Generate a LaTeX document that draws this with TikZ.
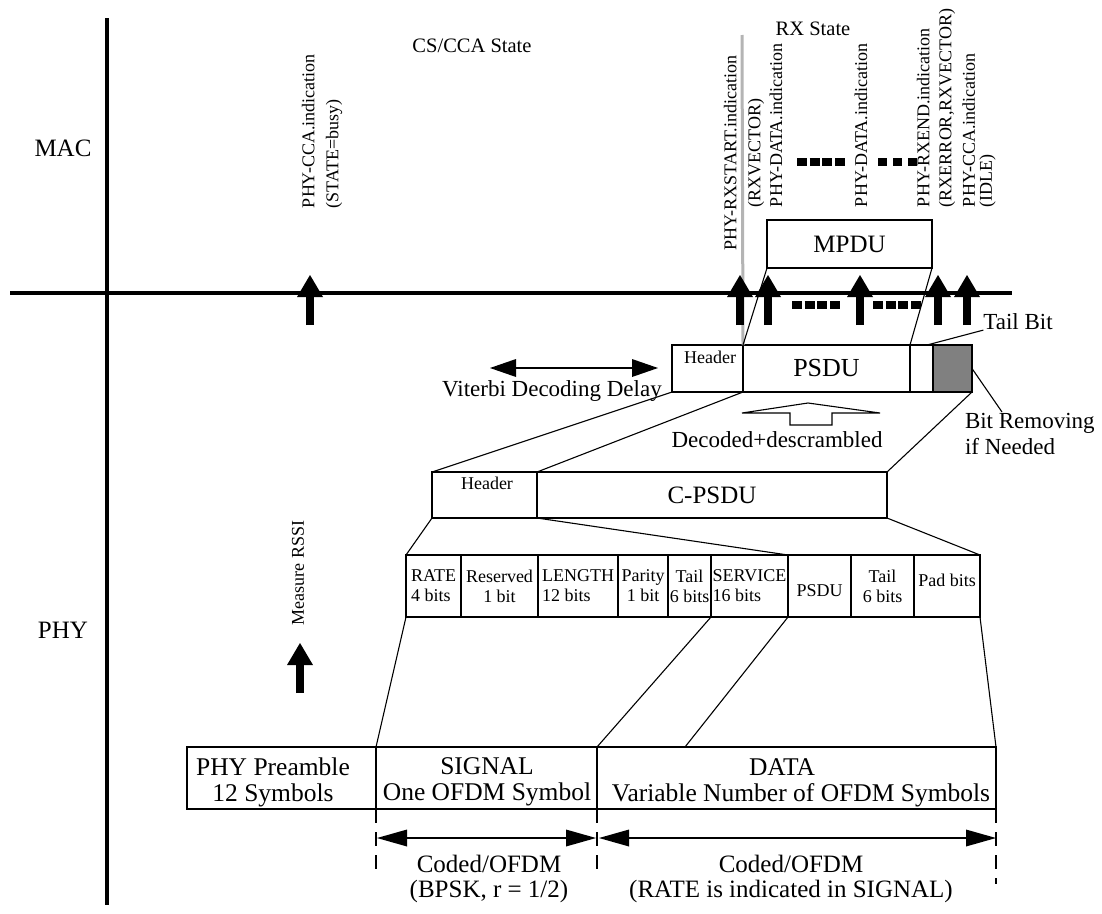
\documentclass[tikz,border=0pt]{standalone}
\usepackage{fontspec}
\setmainfont{Liberation Serif}
\usetikzlibrary{arrows.meta}
\definecolor{boxgray}{HTML}{808080}
\definecolor{lgray}{HTML}{B4B4B4}
\newcommand{\fs}[2]{\fontsize{#1}{#2}\selectfont\lineskiplimit=-50pt\relax}
\newcommand{\drawbox}[7][ubox]{\node[#1, minimum width={#4-#2}, minimum height={#5-#3}] (#6) at ({(#2+#4)/2},{(#3+#5)/2}) {#7};}
\begin{document}
\begin{tikzpicture}[x=1pt,y=-1pt,
  ubox/.style={draw, line width=2.7pt, inner sep=0pt, outer sep=0pt, align=center},
  lbox/.style={draw, line width=2.2pt, inner sep=0pt, outer sep=0pt},
  fbox/.style={ubox, font=\fs{18}{20}},
  thinl/.style={line width=1.1pt},
  txt/.style={inner sep=0pt, outer sep=0pt},
  rlab/.style={txt, rotate=90, anchor=west, align=left, font=\fs{18}{24}},
  bigarrow/.style={line width=8pt, -{Triangle[length=22pt,width=26pt,line width=0pt]}},
  dotsqa/.style={line width=7.5pt, dash pattern=on 10pt off 2.7pt},
  dotsqb/.style={line width=7.5pt, dash pattern=on 9pt off 6pt},
  dimarrow/.style={line width=2pt, {Triangle[length=30pt,width=17pt,line width=0pt]}-{Triangle[length=30pt,width=17pt,line width=0pt]}},
  vdash/.style={line width=2pt, dash pattern=on 14pt off 9pt},
  axisl/.style={line width=3.3pt},
]
\fill[white] (0,0) rectangle (1102,913);
\useasboundingbox (0,0) rectangle (1102,913);

% axes
\coordinate (vt) at (107,18); \coordinate (vb) at (107,905);
\coordinate (hl) at (10,293); \coordinate (hr) at (1012,293);
\draw[axisl] (vt) -- (vb);
\draw[axisl] (hl) -- (hr);

% layer and state labels
\node[txt, font=\fs{25}{30}] (mac) at (63,148) {MAC};
\node[txt, font=\fs{25}{30}] (phy) at (63,630) {PHY};
\node[txt, font=\fs{20.5}{24}] (cs) at (472,46) {CS/CCA State};
\node[txt, font=\fs{20.5}{24}] (rx) at (813,29) {RX State};

% rotated primitive labels
\node[rlab] (l1) at (322,208) {PHY-CCA.indication\\(STATE=busy)};
\node[rlab, align=center, anchor=center] (l2) at (744,153) {PHY-RXSTART.indication\\(RXVECTOR)};
\node[rlab] (l3) at (776,207) {PHY-DATA.indication};
\node[rlab] (l4) at (861,207) {PHY-DATA.indication};
\node[rlab, font=\fs{18}{22}] (l5) at (936,207) {PHY-RXEND.indication\\(RXERROR,RXVECTOR)};
\node[rlab, font=\fs{18}{17}] (l6) at (979,207) {PHY-CCA.indication\\(IDLE)};
\node[rlab] (rssi) at (298,625) {Measure RSSI};

% dotted squares
\coordinate (d1a) at (797,162); \coordinate (d1b) at (845,162);
\coordinate (d2a) at (878,162); \coordinate (d2b) at (917,162);
\coordinate (d3a) at (792,305); \coordinate (d3b) at (840,305);
\coordinate (d4a) at (873,305); \coordinate (d4b) at (921,305);
\draw[dotsqa] (d1a) -- (d1b);
\draw[dotsqb] (d2a) -- (d2b);
\draw[dotsqa] (d3a) -- (d3b);
\draw[dotsqa] (d4a) -- (d4b);

% MPDU
\drawbox{767}{220}{932}{268}{mpdu}{\fs{25}{30}MPDU}

% PSDU row
\drawbox{672}{345}{743}{392}{hdr}{}
\drawbox{743}{345}{910}{392}{psdu}{\fs{26}{30}PSDU}
\drawbox{910}{345}{933}{392}{tail}{}
\drawbox[ubox, fill=boxgray]{933}{345}{972}{392}{pad}{}
\node[txt, font=\fs{18}{20}] (hdrt) at (710,357.5) {Header};

% gray line
\coordinate (gtop) at (742,35);
\draw[line width=3pt, lgray] (gtop) -- (hdr.north east);

% big arrows
\foreach \n/\xx in {1/310, 2/740, 3/768, 4/860, 5/938, 6/967} {
  \coordinate (ab\n) at (\xx,325); \coordinate (at\n) at (\xx,275);
  \draw[bigarrow] (ab\n) -- (at\n);
}
\coordinate (rb) at (300,693); \coordinate (rt) at (300,643);
\draw[bigarrow] (rb) -- (rt);

\draw[thinl] (mpdu.south west) -- (psdu.north west);
\draw[thinl] (mpdu.south east) -- (tail.north west);

% tail bit / bit removing
\node[txt, font=\fs{23}{27}] (tb) at (1018,322) {Tail Bit};
\coordinate (tbend) at (927,345);
\draw[thinl] (tb.south west) -- (tbend);
\node[txt, font=\fs{23}{26}, align=left, anchor=west] (br) at (965,434) {Bit Removing\\if Needed};
\coordinate (bre) at (1002,412);
\draw[thinl] (pad.east) -- (bre);

% Viterbi delay
\coordinate (vl) at (490,368); \coordinate (vr) at (658,368);
\draw[line width=2pt, {Triangle[length=26pt,width=18pt,line width=0pt]}-{Triangle[length=26pt,width=18pt,line width=0pt]}] (vl) -- (vr);
\node[txt, font=\fs{23}{27}] (vit) at (552,391) {Viterbi Decoding Delay};

% decoded hollow arrow
\draw[thinl, line join=miter] (742,413) -- (808,403) -- (880,413) -- (832,413) -- (832,425) -- (790,425) -- (790,413) -- cycle;
\node[txt, font=\fs{23}{27}] (dec) at (777,440) {Decoded+descrambled};

% C-PSDU row
\drawbox{432}{472}{537}{518}{chdr}{}
\drawbox{537}{472}{887}{518}{cpsdu}{\fs{25}{30}C-PSDU}
\node[txt, font=\fs{18}{20}] (chdrt) at (487,483) {Header};

\draw[thinl] (hdr.south west) -- (chdr.north west);
\draw[thinl] (hdr.south east) -- (chdr.north east);
\draw[thinl] (pad.south east) -- (cpsdu.north east);

% fields
\drawbox[fbox, align=left]{406}{555}{461}{617}{f1}{RATE\\4 bits}
\drawbox[fbox]{461}{555}{538}{617}{f2}{Reserved\\1 bit}
\drawbox[fbox, align=left]{538}{555}{618}{617}{f3}{LENGTH\\12 bits}
\drawbox[fbox]{618}{555}{668}{617}{f4}{Parity\\1 bit}
\drawbox[fbox]{668}{555}{711}{617}{f5}{Tail\\6 bits}
\drawbox[fbox, align=left]{711}{555}{788}{617}{f6}{SERVICE\\16 bits}
\drawbox[fbox]{788}{555}{851}{617}{f7}{}
\drawbox[fbox]{851}{555}{914}{617}{f8}{Tail\\6 bits}
\drawbox[fbox]{914}{555}{980}{617}{f9}{}
\node[txt, font=\fs{18}{20}] (f7t) at (819.5,591) {PSDU};
\node[txt, font=\fs{18}{20}] (f9t) at (947,580) {Pad bits};

\draw[thinl] (chdr.south west) -- (f1.north west);
\draw[thinl] (chdr.south east) -- (f6.north east);
\draw[thinl] (cpsdu.south east) -- (f9.north east);

% bottom boxes
\drawbox[lbox]{187}{747}{376}{809}{pre}{}
\drawbox[lbox]{376}{747}{597}{809}{sig}{}
\drawbox[lbox]{597}{747}{996}{809}{dat}{}
\node[txt, font=\fs{25.5}{26}, align=center] (pret) at (273,782) {PHY Preamble\\12 Symbols};
\node[txt, font=\fs{25.5}{26}, align=center] (sigt) at (487,782) {SIGNAL\\One OFDM Symbol};
\node[txt, font=\fs{25.5}{26}] (datt1) at (782,767) {DATA};
\node[txt, font=\fs{25.5}{26}] (datt2) at (801,795) {Variable Number of OFDM Symbols};

\coordinate (dtop) at (685,747);
\draw[thinl] (f1.south west) -- (sig.north west);
\draw[thinl] (f5.south east) -- (sig.north east);
\draw[thinl] (f6.south east) -- (dtop);
\draw[thinl] (f9.south east) -- (dat.north east);

% dashed verticals and dimension arrows
\coordinate (dv1) at (376,876); \coordinate (dv2) at (597,876); \coordinate (dv3) at (996,884);
\draw[vdash] (sig.south west) -- (dv1);
\draw[vdash] (sig.south east) -- (dv2);
\draw[vdash] (dat.south east) -- (dv3);
\coordinate (da1) at (377,838); \coordinate (da2) at (596,838);
\coordinate (da3) at (599,838); \coordinate (da4) at (996,838);
\draw[dimarrow] (da1) -- (da2);
\draw[dimarrow] (da3) -- (da4);

\node[txt, font=\fs{25}{24.5}, align=center] (c1) at (489,879) {Coded/OFDM\\(BPSK, r = 1/2)};
\node[txt, font=\fs{25}{24.5}, align=center] (c2) at (791,879) {Coded/OFDM\\(RATE is indicated in SIGNAL)};
\end{tikzpicture}
\end{document}
